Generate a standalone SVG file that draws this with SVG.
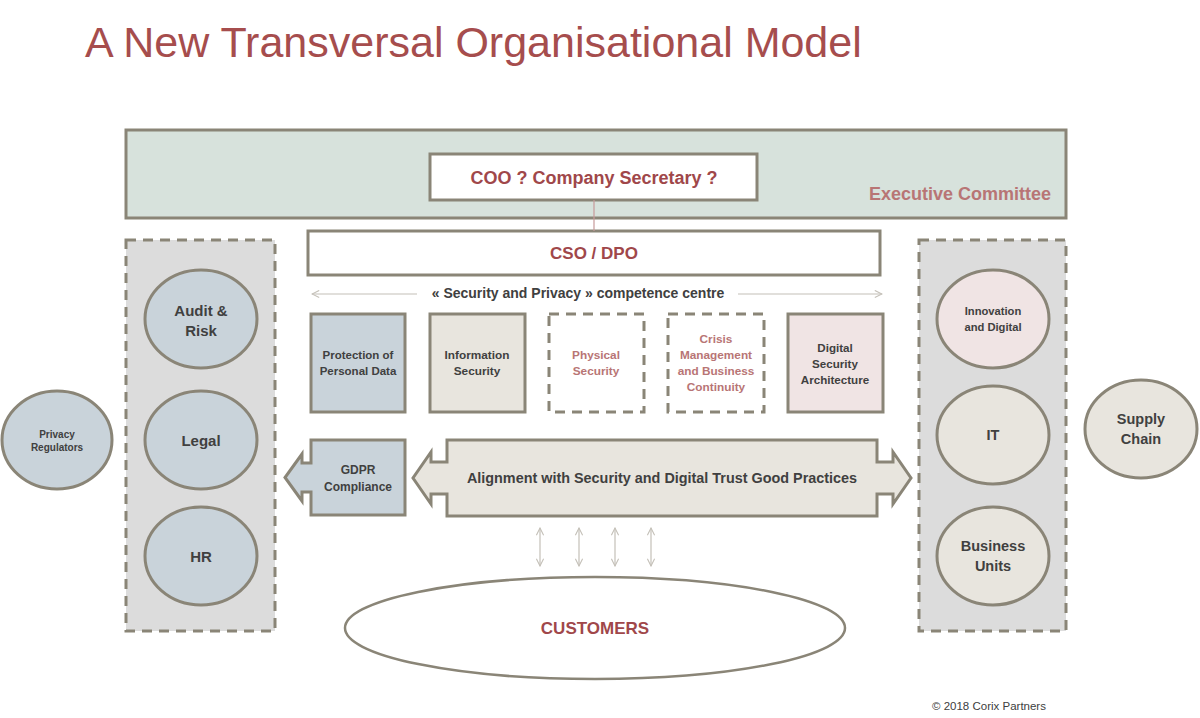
<svg xmlns="http://www.w3.org/2000/svg" width="1200" height="718" viewBox="0 0 1200 718">
<defs>
<style>
.t{font-family:"Liberation Sans",Arial,sans-serif;font-weight:bold;text-anchor:middle;dominant-baseline:central;fill:#404040}
.red{fill:#a0474a}
.lred{fill:#b87575}
.box{stroke:#8a8577;stroke-width:3}
.dash{stroke:#8a8577;stroke-width:3;stroke-dasharray:10 7}
.thin{stroke:#c4c0b8;stroke-width:1.2;fill:none}
</style>
<marker id="ah" viewBox="0 0 10 10" refX="9" refY="5" markerWidth="9" markerHeight="9" markerUnits="userSpaceOnUse" orient="auto-start-reverse">
<path d="M1,1 L9,5 L1,9" fill="none" stroke="#c4c0b8" stroke-width="1.2"/>
</marker>
</defs>
<rect width="1200" height="718" fill="#ffffff"/>
<text x="85" y="57" font-family="'Liberation Sans',Arial,sans-serif" font-size="43" fill="#a64d4d">A New Transversal Organisational Model</text>

<g id="exec">
<rect x="126" y="130" width="940" height="88" fill="#d7e2dc" class="box"/>
<text x="960" y="194" class="t lred" font-size="18">Executive Committee</text>
</g>
<g id="coo">
<rect x="430" y="154" width="327" height="46" fill="#ffffff" class="box"/>
<text x="594" y="178" class="t red" font-size="18">COO ? Company Secretary ?</text>
</g>
<g id="cso">
<rect x="308" y="231" width="572" height="44" fill="#ffffff" class="box"/>
<text x="594" y="253" class="t red" font-size="17">CSO / DPO</text>
</g>

<g id="connectors">
<line x1="594" y1="200" x2="594" y2="231" stroke="#c79a9a" stroke-width="1.2"/>
<line x1="417" y1="294" x2="312" y2="294" class="thin" marker-end="url(#ah)"/>
<line x1="738" y1="294" x2="882" y2="294" class="thin" marker-end="url(#ah)"/>
<line x1="540" y1="528" x2="540" y2="566" class="thin" marker-start="url(#ah)" marker-end="url(#ah)"/>
<line x1="579" y1="528" x2="579" y2="566" class="thin" marker-start="url(#ah)" marker-end="url(#ah)"/>
<line x1="615" y1="528" x2="615" y2="566" class="thin" marker-start="url(#ah)" marker-end="url(#ah)"/>
<line x1="651" y1="528" x2="651" y2="566" class="thin" marker-start="url(#ah)" marker-end="url(#ah)"/>
</g>
<text x="578" y="293" class="t" font-size="14">« Security and Privacy » competence centre</text>

<g id="protection">
<rect x="311" y="314" width="94" height="98" fill="#c9d3da" class="box"/>
<text class="t" font-size="11.5"><tspan x="358" y="355">Protection of</tspan><tspan x="358" y="371">Personal Data</tspan></text>
</g>
<g id="infosec">
<rect x="430" y="314" width="95" height="98" fill="#e8e5de" class="box"/>
<text class="t" font-size="11.8"><tspan x="477" y="355">Information</tspan><tspan x="477" y="371">Security</tspan></text>
</g>
<g id="physical">
<rect x="549" y="314" width="95" height="98" fill="#ffffff" class="dash"/>
<text class="t lred" font-size="11.8"><tspan x="596" y="355">Physical</tspan><tspan x="596" y="371">Security</tspan></text>
</g>
<g id="crisis">
<rect x="668" y="314" width="96" height="98" fill="#ffffff" class="dash"/>
<text class="t lred" font-size="11.8"><tspan x="716" y="339">Crisis</tspan><tspan x="716" y="355">Management</tspan><tspan x="716" y="371">and Business</tspan><tspan x="716" y="387">Continuity</tspan></text>
</g>
<g id="digital">
<rect x="788" y="314" width="95" height="98" fill="#f0e4e4" class="box"/>
<text class="t" font-size="11.6"><tspan x="835" y="347">Digital</tspan><tspan x="835" y="363">Security</tspan><tspan x="835" y="379">Architecture</tspan></text>
</g>

<g id="left-panel">
<rect x="126" y="240" width="149" height="391" fill="#dcdcdc" class="dash"/>
</g>
<g id="audit">
<ellipse cx="201" cy="319" rx="56" ry="49" fill="#c9d3da" class="box"/>
<text class="t" font-size="15"><tspan x="201" y="310">Audit &amp;</tspan><tspan x="201" y="330">Risk</tspan></text>
</g>
<g id="legal">
<ellipse cx="201" cy="440" rx="56" ry="49" fill="#c9d3da" class="box"/>
<text x="201" y="440" class="t" font-size="15">Legal</text>
</g>
<g id="hr">
<ellipse cx="201" cy="556" rx="56" ry="49" fill="#c9d3da" class="box"/>
<text x="201" y="556" class="t" font-size="15">HR</text>
</g>
<g id="regulators">
<ellipse cx="57" cy="440" rx="55" ry="49" fill="#c9d3da" class="box"/>
<text class="t" font-size="10"><tspan x="57" y="434">Privacy</tspan><tspan x="57" y="447">Regulators</tspan></text>
</g>

<g id="right-panel">
<rect x="919" y="240" width="147" height="391" fill="#dcdcdc" class="dash"/>
</g>
<g id="innovation">
<ellipse cx="993" cy="319" rx="56" ry="49" fill="#f0e4e4" class="box"/>
<text class="t" font-size="11.2"><tspan x="993" y="311">Innovation</tspan><tspan x="993" y="327">and Digital</tspan></text>
</g>
<g id="it">
<ellipse cx="993" cy="435" rx="56" ry="49" fill="#e8e5de" class="box"/>
<text x="993" y="435" class="t" font-size="14.5">IT</text>
</g>
<g id="business">
<ellipse cx="993" cy="556" rx="56" ry="49" fill="#e8e5de" class="box"/>
<text class="t" font-size="14.5"><tspan x="993" y="546">Business</tspan><tspan x="993" y="566">Units</tspan></text>
</g>
<g id="supply">
<ellipse cx="1141" cy="429" rx="56" ry="49" fill="#e8e5de" class="box"/>
<text class="t" font-size="14.5"><tspan x="1141" y="419">Supply</tspan><tspan x="1141" y="439">Chain</tspan></text>
</g>

<g id="gdpr">
<path d="M405,440 L405,515 L311,515 L311,492 L302,492 L302,501 L285,477.5 L302,454 L302,463 L311,463 L311,440 Z" fill="#c9d3da" class="box" stroke-linejoin="miter"/>
<text class="t" font-size="12"><tspan x="358" y="470">GDPR</tspan><tspan x="358" y="487">Compliance</tspan></text>
</g>
<g id="alignment">
<path d="M447,440 L877,440 L877,462 L893,462 L893,452 L911,478 L893,504 L893,494 L877,494 L877,516 L447,516 L447,494 L431,494 L431,504 L413,478 L431,452 L431,462 L447,462 Z" fill="#e8e5de" class="box"/>
<text x="662" y="478" class="t" font-size="14.4">Alignment with Security and Digital Trust Good Practices</text>
</g>

<g id="customers">
<ellipse cx="595" cy="628" rx="250" ry="51" fill="#ffffff" stroke="#8a8577" stroke-width="2.5"/>
<text x="595" y="628" class="t red" font-size="17">CUSTOMERS</text>
</g>

<text x="989" y="706" font-family="'Liberation Sans',Arial,sans-serif" font-size="11.5" fill="#404040" text-anchor="middle" dominant-baseline="central">© 2018 Corix Partners</text>
</svg>
